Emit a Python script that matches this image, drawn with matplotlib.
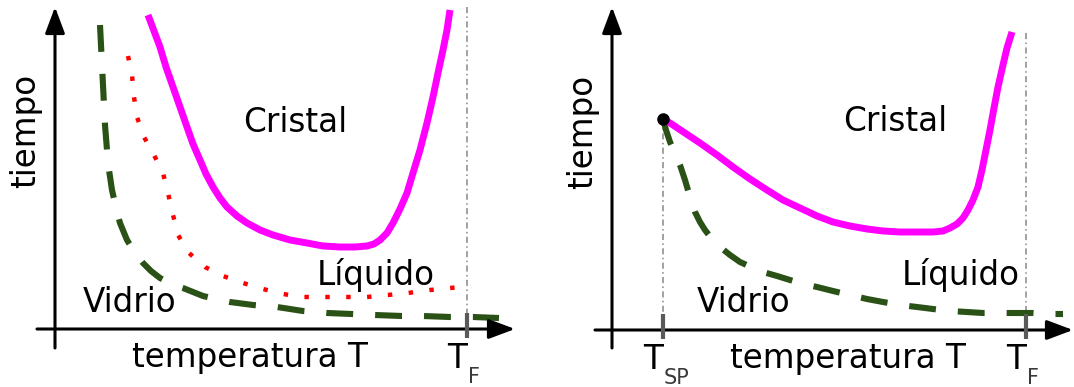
import matplotlib
matplotlib.use('Agg')
import matplotlib.pyplot as plt

# curvas TTT: temperatura (desde el origen de ejes) y tiempo, unidades arbitrarias
T_cristal_izq = [93, 99, 105, 111, 118, 125, 132, 138, 145, 151, 158, 165, 172, 182, 192, 205, 218, 235, 252, 268,
                 285, 300, 312, 319, 325, 332, 338, 345, 352, 358, 365, 372, 378, 383, 388, 392, 395]
t_cristal_izq = [314, 298, 282, 262, 242, 222, 202, 185, 169, 155, 142, 131, 122, 113, 106, 99, 94, 89, 86, 83,
                 82, 82, 83, 85, 89, 96, 106, 120, 136, 156, 179, 206, 232, 256, 279, 299, 319]

T_liquido_izq = [73, 77, 79, 82, 89, 99, 108, 113, 118, 123, 134, 150, 168, 188, 208, 228, 248, 270, 291, 312, 333, 353, 375, 395, 416]
t_liquido_izq = [273, 254, 232, 212, 192, 174, 156, 136, 114, 94, 76, 62, 53, 46, 40, 35, 32, 32, 32, 32, 34, 36, 39, 41, 43]

T_vidrio_izq = [45, 46, 47, 48, 49, 50, 52, 54, 57, 61, 65, 72, 80, 88, 96, 105, 116, 128, 138, 148, 161, 175,
                198, 222, 248, 272, 297, 320, 347, 368, 395, 418, 444]
t_vidrio_izq = [304, 284, 264, 244, 224, 204, 179, 159, 139, 121, 106, 89, 76, 66, 58, 51, 45, 41, 37, 33, 30, 27,
                24, 22, 18, 16, 15, 14, 13, 13, 12, 12, 11]

T_cristal_der = [50, 58, 73, 88, 105, 121, 138, 155, 171, 188, 205, 221, 238, 255, 271, 288, 305, 321, 331, 338,
                 345, 351, 356, 361, 366, 370, 374, 378, 382, 386, 391, 395, 400]
t_cristal_der = [211, 207, 197, 187, 175, 163, 151, 140, 130, 122, 114, 108, 104, 101, 99, 98, 98, 98, 99, 102,
                 106, 112, 120, 130, 143, 160, 180, 200, 222, 243, 265, 282, 298]

T_vidrio_der = [51, 54, 58, 63, 68, 73, 78, 83, 88, 93, 100, 108, 118, 128, 139, 151, 165, 178, 191, 205, 221,
                238, 255, 271, 288, 305, 321, 338, 355, 371, 388, 405, 421, 436, 451]
t_vidrio_der = [211, 200, 188, 177, 165, 150, 133, 118, 108, 100, 91, 83, 75, 68, 63, 58, 54, 50, 46, 43, 39,
                35, 31, 28, 25, 23, 21, 19, 18, 17, 17, 17, 17, 16, 16]

# marcas del eje de temperatura
T_F_izq = 412
T_SP_der = 51
T_F_der = 414
t_SP = 211

MAGENTA = '#ff00ff'
VERDE = '#2b5216'
ROJO = '#ff0000'
TAM = 23.5


def ejes_con_flecha(ax, x0, xmax, y0, ymax):
    flecha = dict(arrowstyle='-|>,head_length=0.8,head_width=0.3', mutation_scale=20,
                  lw=2.2, color='black', shrinkA=0, shrinkB=0)
    ax.annotate('', xy=(xmax, 0), xytext=(x0, 0), arrowprops=flecha, annotation_clip=False)
    ax.annotate('', xy=(0, ymax), xytext=(0, y0), arrowprops=flecha, annotation_clip=False)


def marca(ax, x, y_top, etiqueta, sub):
    ax.plot([x, x], [y_top, 0], color='#888888', lw=1.1, ls=(0, (4, 2.2, 1, 2.2)), zorder=1)
    ax.plot([x, x], [16, -9], color='#5a5a5a', lw=3, solid_capstyle='butt', zorder=5)
    ax.text(x - 20, -39, etiqueta, fontsize=TAM, ha='left', va='baseline')
    ax.text(x + 1, -54, sub, fontsize=15, ha='left', va='baseline', color='#3a3a3a')


def textos(ax, dx):
    ax.text(-29, 198, 'tiempo', fontsize=TAM, rotation=90, ha='center', va='center')
    ax.text(77 + dx, -38, 'temperatura T', fontsize=TAM, ha='left', va='baseline')


fig = plt.figure(figsize=(10.74, 3.87), dpi=100)
ax1 = fig.add_axes([0, 0, 0.5, 1])
ax2 = fig.add_axes([0.5, 0, 0.5, 1])

# panel izquierdo
ax1.plot(T_vidrio_izq, t_vidrio_izq, color=VERDE, lw=4.4, ls=(0, (4.4, 3.6)), dash_capstyle='butt')
ax1.plot(T_liquido_izq, t_liquido_izq, color=ROJO, lw=3.2, ls=(0, (1, 3.7)), dash_capstyle='butt')
ax1.plot(T_cristal_izq, t_cristal_izq, color=MAGENTA, lw=5, solid_capstyle='butt', solid_joinstyle='round')
ejes_con_flecha(ax1, -18, 460, -19, 322)
marca(ax1, T_F_izq, 322, 'T', 'F')
textos(ax1, 0)
ax1.text(188, 197, 'Cristal', fontsize=TAM, ha='left', va='baseline')
ax1.text(262, 44, 'Líquido', fontsize=TAM, ha='left', va='baseline')
ax1.text(28, 17, 'Vidrio', fontsize=TAM, ha='left', va='baseline')
ax1.set_xlim(-55, 482)
ax1.set_ylim(-58, 329)

# panel derecho
ax2.plot(T_vidrio_der, t_vidrio_der, color=VERDE, lw=4.4, ls=(0, (4.4, 3.6)), dash_capstyle='butt')
ax2.plot(T_cristal_der, t_cristal_der, color=MAGENTA, lw=5, solid_capstyle='butt', solid_joinstyle='round')
ax2.plot([T_SP_der], [t_SP], 'o', color='black', ms=8, zorder=6)
ejes_con_flecha(ax2, -17, 461, -18, 323)
marca(ax2, T_SP_der, t_SP, 'T', 'SP')
marca(ax2, T_F_der, 297, 'T', 'F')
textos(ax2, 41)
ax2.text(231, 199, 'Cristal', fontsize=TAM, ha='left', va='baseline')
ax2.text(290, 45, 'Líquido', fontsize=TAM, ha='left', va='baseline')
ax2.text(85, 18, 'Vidrio', fontsize=TAM, ha='left', va='baseline')
ax2.set_xlim(-75, 462)
ax2.set_ylim(-57, 330)

for ax in (ax1, ax2):
    ax.axis('off')

fig.savefig('out.png', dpi=100)
